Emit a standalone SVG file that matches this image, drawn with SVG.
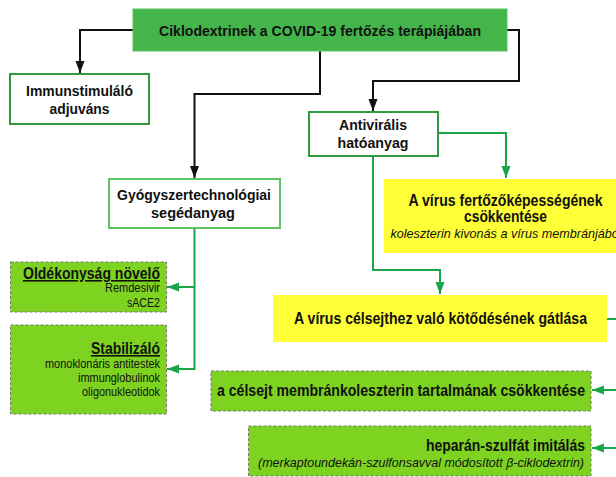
<svg xmlns="http://www.w3.org/2000/svg" width="616" height="477" viewBox="0 0 616 477">
<style>
text{font-family:"Liberation Sans Narrow","Arial Narrow","Liberation Sans",sans-serif;fill:#111}
.b{font-weight:bold}
.t15{font-size:15px}
.t16{font-size:16px}
.s{font-size:12px}
.i{font-style:italic;font-size:13px}
.c{text-anchor:middle}
.r{text-anchor:end}
.u{text-decoration:underline}
.wbox{fill:#fff;stroke:#2f9a3e;stroke-width:2}
.lbox{fill:#fff;stroke:#5cc262;stroke-width:2}
.lime{fill:#7ed321;stroke:#777;stroke-width:1;stroke-dasharray:3,2}
.yel{fill:#ffff38}
.bk{fill:none;stroke:#111;stroke-width:2}
.gr{fill:none;stroke:#1aa548;stroke-width:2}
</style>
<defs>
<marker id="ab" markerUnits="userSpaceOnUse" markerWidth="12" markerHeight="10" refX="12" refY="5" orient="auto"><path d="M0,0.5 L12,5 L0,9.5 z" fill="#111"/></marker>
<marker id="ag" markerUnits="userSpaceOnUse" markerWidth="12" markerHeight="10" refX="12" refY="5" orient="auto"><path d="M0,0.5 L12,5 L0,9.5 z" fill="#1aa548"/></marker>
</defs>
<g id="connectors">
<path class="bk" d="M133,30 H80 V73" marker-end="url(#ab)"/>
<path class="bk" d="M320,51 V94 H194.5 V178" marker-end="url(#ab)"/>
<path class="bk" d="M507,30 H519 V81 H373 V111" marker-end="url(#ab)"/>
<path class="gr" d="M438,133 H506 V178" marker-end="url(#ag)"/>
<path class="gr" d="M373,156 V270 H440 V294" marker-end="url(#ag)"/>
<path class="gr" d="M194.5,228 V369 H167" marker-end="url(#ag)"/>
<path class="gr" d="M194.5,287 H167" marker-end="url(#ag)"/>
<path class="gr" d="M607,319 H616"/>
<path class="gr" d="M616,390 H592" marker-end="url(#ag)"/>
<path class="gr" d="M616,448 H592" marker-end="url(#ag)"/>
</g>
<g id="root">
<rect x="133" y="9" width="374" height="42" fill="#44b54b" stroke="#5cc262" stroke-width="1"/>
<text class="b t15 c" x="320" y="36" textLength="322" lengthAdjust="spacingAndGlyphs">Ciklodextrinek a COVID-19 fertőzés terápiájában</text>
</g>
<g id="immun">
<rect class="wbox" x="10" y="74" width="139" height="50"/>
<text class="b t15 c" x="79.5" y="96" textLength="107" lengthAdjust="spacingAndGlyphs">Immunstimuláló</text>
<text class="b t15 c" x="79.5" y="114" textLength="60" lengthAdjust="spacingAndGlyphs">adjuváns</text>
</g>
<g id="antiviral">
<rect class="wbox" x="309" y="112" width="129" height="44"/>
<text class="b t15 c" x="373" y="130" textLength="68" lengthAdjust="spacingAndGlyphs">Antivirális</text>
<text class="b t15 c" x="373" y="148" textLength="71" lengthAdjust="spacingAndGlyphs">hatóanyag</text>
</g>
<g id="gyogy">
<rect class="lbox" x="109" y="179" width="171" height="49"/>
<text class="b t15 c" x="194" y="200" textLength="154" lengthAdjust="spacingAndGlyphs">Gyógyszertechnológiai</text>
<text class="b t15 c" x="193" y="218" textLength="84" lengthAdjust="spacingAndGlyphs">segédanyag</text>
</g>
<g id="oldekony">
<rect class="lime" x="10.5" y="262" width="156" height="50"/>
<text class="b t16 r u" x="160" y="279" textLength="137" lengthAdjust="spacingAndGlyphs">Oldékonyság növelő</text>
<text class="s r" x="160" y="292" textLength="55" lengthAdjust="spacingAndGlyphs">Remdesivir</text>
<text class="s r" x="160" y="307" textLength="33" lengthAdjust="spacingAndGlyphs">sACE2</text>
</g>
<g id="stabil">
<rect class="lime" x="10.5" y="325" width="156" height="89"/>
<text class="b t16 r u" x="160" y="354" textLength="69" lengthAdjust="spacingAndGlyphs">Stabilizáló</text>
<text class="s r" x="160" y="368" textLength="115" lengthAdjust="spacingAndGlyphs">monoklonáris antitestek</text>
<text class="s r" x="160" y="382" textLength="82" lengthAdjust="spacingAndGlyphs">immunglobulinok</text>
<text class="s r" x="160" y="396" textLength="78" lengthAdjust="spacingAndGlyphs">oligonukleotidok</text>
</g>
<g id="fertozo">
<rect class="yel" x="384" y="179" width="244" height="74"/>
<text class="b t16 c" x="505.5" y="206" textLength="194" lengthAdjust="spacingAndGlyphs">A vírus fertőzőképességének</text>
<text class="b t16 c" x="505.5" y="222" textLength="83" lengthAdjust="spacingAndGlyphs">csökkentése</text>
<text class="i c" x="506" y="238" textLength="231" lengthAdjust="spacingAndGlyphs">koleszterin kivonás a vírus membránjából</text>
</g>
<g id="kotodes">
<rect class="yel" x="273" y="295" width="334" height="47"/>
<text class="b t16 c" x="440.5" y="324" textLength="293" lengthAdjust="spacingAndGlyphs">A vírus célsejthez való kötődésének gátlása</text>
</g>
<g id="membran">
<rect class="lime" x="211" y="371" width="380" height="40"/>
<text class="b t16 c" x="401" y="396" textLength="368" lengthAdjust="spacingAndGlyphs">a célsejt membránkoleszterin tartalmának csökkentése</text>
</g>
<g id="heparan">
<rect class="lime" x="248.5" y="426" width="342.5" height="50"/>
<text class="b t16 r" x="585" y="451" textLength="159" lengthAdjust="spacingAndGlyphs">heparán-szulfát imitálás</text>
<text class="i r" x="584" y="467" textLength="326" lengthAdjust="spacingAndGlyphs">(merkaptoundekán-szulfonsavval módosított β-ciklodextrin)</text>
</g>
</svg>
